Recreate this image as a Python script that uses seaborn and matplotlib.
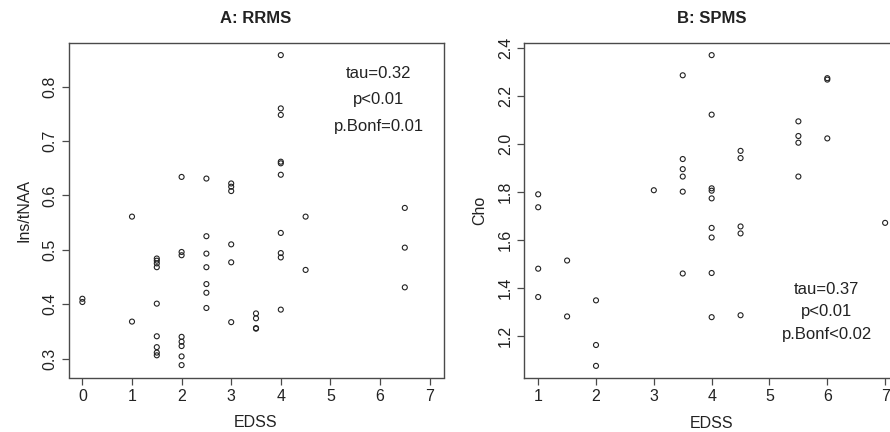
import pandas as pd
import seaborn as sns
import matplotlib
matplotlib.use("Agg")
import matplotlib.pyplot as plt

sns.set_theme(style="white")
plt.rcParams["font.family"] = ["Liberation Sans", "DejaVu Sans"]

# Panel A: RRMS, EDSS vs Ins/tNAA
rrms_edss = [0, 0,
             1, 1,
             1.5, 1.5, 1.5, 1.5, 1.5, 1.5, 1.5, 1.5, 1.5,
             2, 2, 2, 2, 2, 2, 2, 2,
             2.5, 2.5, 2.5, 2.5, 2.5, 2.5, 2.5,
             3, 3, 3, 3, 3, 3,
             3.5, 3.5, 3.5, 3.5,
             4, 4, 4, 4, 4, 4, 4, 4, 4, 4,
             4.5, 4.5,
             6.5, 6.5, 6.5]
rrms_ins = [0.410, 0.404,
            0.561, 0.368,
            0.484, 0.480, 0.475, 0.468, 0.401, 0.341, 0.321, 0.311, 0.306,
            0.634, 0.496, 0.490, 0.340, 0.331, 0.323, 0.304, 0.288,
            0.631, 0.525, 0.493, 0.468, 0.437, 0.421, 0.393,
            0.622, 0.616, 0.608, 0.510, 0.477, 0.367,
            0.383, 0.374, 0.356, 0.355,
            0.858, 0.760, 0.748, 0.662, 0.659, 0.638, 0.531, 0.494, 0.486, 0.390,
            0.561, 0.463,
            0.577, 0.504, 0.431]

# Panel B: SPMS, EDSS vs Cho
spms_edss = [1, 1, 1, 1,
             1.5, 1.5,
             2, 2, 2,
             3,
             3.5, 3.5, 3.5, 3.5, 3.5, 3.5,
             4, 4, 4, 4, 4, 4, 4, 4, 4,
             4.5, 4.5, 4.5, 4.5, 4.5,
             5.5, 5.5, 5.5, 5.5,
             6, 6, 6,
             7]
spms_cho = [1.789, 1.735, 1.479, 1.361,
            1.513, 1.280,
            1.347, 1.161, 1.074,
            1.806,
            2.285, 1.936, 1.894, 1.863, 1.800, 1.459,
            2.369, 2.121, 1.814, 1.804, 1.772, 1.649, 1.609, 1.461, 1.277,
            1.970, 1.940, 1.655, 1.626, 1.285,
            2.093, 2.032, 2.004, 1.863,
            2.273, 2.267, 2.022,
            1.670]

rrms_xticks = [0, 1, 2, 3, 4, 5, 6, 7]
rrms_yticks = [0.3, 0.4, 0.5, 0.6, 0.7, 0.8]
spms_xticks = [1, 2, 3, 4, 5, 6, 7]
spms_yticks = [1.2, 1.4, 1.6, 1.8, 2.0, 2.2, 2.4]

rrms_stats = ["tau=0.32", "p<0.01", "p.Bonf=0.01"]
spms_stats = ["tau=0.37", "p<0.01", "p.Bonf<0.02"]

df_a = pd.DataFrame({"EDSS": rrms_edss, "val": rrms_ins})
df_b = pd.DataFrame({"EDSS": spms_edss, "val": spms_cho})

BOX = "#4a4a4a"
INK = "#222222"


def r_range(lo, hi):
    # R's default 4% axis extension
    pad = (hi - lo) * 0.04
    return lo - pad, hi + pad


def style_panel(ax, title, ylabel, xticks, yticks):
    ax.set_xticks(xticks)
    ax.set_yticks(yticks)
    ax.set_xticklabels([str(t) for t in xticks])
    ax.set_yticklabels([f"{t:.1f}" for t in yticks])
    for lbl in ax.get_yticklabels():
        lbl.set_rotation(90)
        lbl.set_va("center")
    ax.tick_params(axis="both", direction="out", length=5, width=0.9,
                   color=BOX, labelsize=11.5, labelcolor=INK, pad=3,
                   bottom=True, left=True)
    for s in ax.spines.values():
        s.set_visible(True)
        s.set_color(BOX)
        s.set_linewidth(1.0)
    ax.grid(False)
    ax.set_title(title, fontsize=12, fontweight="bold", color=INK, pad=14)
    ax.set_xlabel("EDSS", fontsize=11.5, color=INK, labelpad=8)
    ax.set_ylabel(ylabel, fontsize=11.5, color=INK, labelpad=8)


fig = plt.figure(figsize=(8.9, 4.32), dpi=100)
ax1 = fig.add_axes([68.5 / 890, 1 - 377.5 / 432, 375 / 890, 334.8 / 432])
ax2 = fig.add_axes([524.3 / 890, 1 - 378.3 / 432, 374.7 / 890, 335.6 / 432])

sns.scatterplot(data=df_a, x="EDSS", y="val", ax=ax1, marker="o",
                s=13, facecolor="none", edgecolor=INK, linewidth=0.8)
sns.scatterplot(data=df_b, x="EDSS", y="val", ax=ax2, marker="o",
                s=13, facecolor="none", edgecolor=INK, linewidth=0.8)

ax1.set_xlim(*r_range(0, 7))
ax1.set_ylim(*r_range(min(rrms_ins), max(rrms_ins)))
ax2.set_xlim(*r_range(min(spms_edss), max(spms_edss)))
ax2.set_ylim(*r_range(min(spms_cho), max(spms_cho)))

style_panel(ax1, "A: RRMS", "Ins/tNAA", rrms_xticks, rrms_yticks)
style_panel(ax2, "B: SPMS", "Cho", spms_xticks, spms_yticks)

for txt, yy in zip(rrms_stats, [0.909, 0.831, 0.749]):
    ax1.text(0.828, yy, txt, transform=ax1.transAxes, ha="center", va="center",
             fontsize=12, color=INK)
for txt, yy in zip(spms_stats, [0.266, 0.200, 0.131]):
    ax2.text(0.807, yy, txt, transform=ax2.transAxes, ha="center", va="center",
             fontsize=12, color=INK)

fig.savefig("out.png", dpi=100, facecolor="white")
